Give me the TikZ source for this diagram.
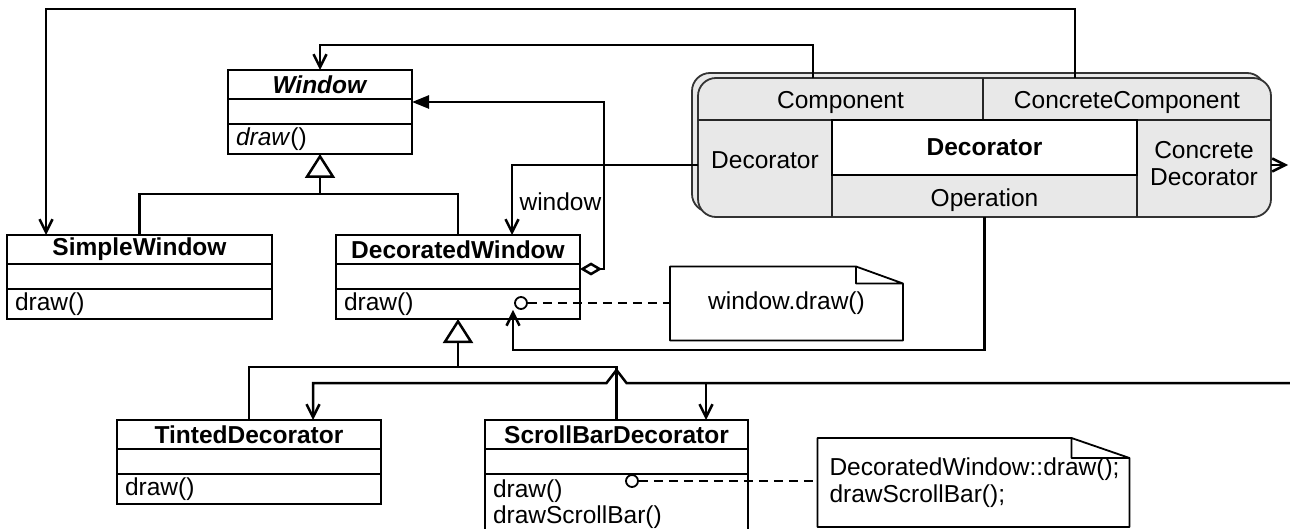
\documentclass[tikz,border=0pt]{standalone}
\usepackage{fontspec}
\setmainfont{Liberation Sans}
\usetikzlibrary{positioning, arrows.meta}

\begin{document}
\begin{tikzpicture}[x=1pt, y=-1pt,
        every node/.style={font=\fontsize{24.5}{26.5}\selectfont},
        classname/.style={draw, line width=2.6pt, outer sep=0pt, inner sep=0pt, minimum width=#1, minimum height=29pt},
        classattr/.style={draw, line width=2.6pt, outer sep=0pt, inner sep=0pt, minimum width=#1, minimum height=25pt},
        classops/.style={draw, line width=2.6pt, outer sep=0pt, inner xsep=8pt, inner ysep=2pt, text width=#1, minimum height=30pt, align=left},
        cell/.style={inner sep=0pt, outer sep=0pt, align=center},
        collab/.style={draw=black!80, line width=1.8pt, fill=black!9, rounded corners=18pt},
        celline/.style={draw=black!85, line width=1.8pt},
        port/.style={circle, draw, line width=1.8pt, fill=white, minimum size=12pt, inner sep=0pt},
        notetext/.style={inner sep=0pt, outer sep=0pt},
        noteline/.style={line width=1.8pt, line join=round},
        noteconn/.style={line width=1.8pt, dash pattern=on 9pt off 6pt},
        conn/.style={line width=2.5pt},
        assoc/.style={line width=2.5pt, -{Straight Barb[length=13pt,width=13pt]}},
        gen/.style={line width=2.5pt, -{Triangle[length=24pt,width=30pt,fill=white]}},
        aggr/.style={line width=2.5pt, {Triangle[length=17pt,width=13pt]}-{Diamond[length=22pt,width=13pt,fill=white]}}]
        \useasboundingbox (0,0) rectangle (1290,529);

        % collaboration
        \draw[collab] (692,73) rectangle (1265,212);
        \draw[collab] (698,78) rectangle (1271,217);
        \node[cell, minimum width=285pt, minimum height=42pt, text height=24pt] (component) at (840.5,99) {Component};
        \node[cell, minimum width=288pt, minimum height=42pt, text height=24pt] (ccomp) at (1127,99) {ConcreteComponent};
        \node[cell, minimum width=134pt, minimum height=97pt, text depth=17pt] (decrole) at (765,168.5) {Decorator};
        \node[cell, minimum width=305pt, minimum height=42pt, text height=26pt] (operation) at (984.5,196) {Operation};
        \node[cell, minimum width=134pt, minimum height=97pt] (cdec) at (1204,163.5) {Concrete\\Decorator};
        \draw[celline] (component.south west) -- (ccomp.south east);
        \draw[celline] (component.north east) -- (component.south east);
        \draw[celline] (decrole.north east) -- (decrole.south east);
        \draw[celline] (decrole.north east -| cdec.west) -- (decrole.south east -| cdec.west);
        \node[cell, draw, fill=white, line width=2.2pt, minimum width=305pt, minimum height=55pt] (dectitle) at (984.5,147.5) {\textbf{Decorator}};

        % classes
        \node[classname=184pt] (window) at (320,84.5) {\textbf{\textit{Window}}};
        \node[classattr=184pt, below=0pt of window] (windowattr) {};
        \node[classops=168pt, below=0pt of windowattr] (windowops) {\textit{draw}()};

        \node[classname=265pt] (simple) at (139.5,249.5) {\textbf{SimpleWindow}};
        \node[classattr=265pt, below=0pt of simple] (simpleattr) {};
        \node[classops=249pt, below=0pt of simpleattr] (simpleops) {draw()};

        \node[classname=244pt] (decorated) at (458,249.5) {\textbf{DecoratedWindow}};
        \node[classattr=244pt, below=0pt of decorated] (decattr) {};
        \node[classops=228pt, below=0pt of decattr] (decops) {draw()};

        \node[classname=264pt] (tinted) at (249,434.5) {\textbf{TintedDecorator}};
        \node[classattr=264pt, below=0pt of tinted] (tintedattr) {};
        \node[classops=248pt, below=0pt of tintedattr] (tintedops) {draw()};

        \node[classname=263pt] (scroll) at (616.5,434.5) {\textbf{ScrollBarDecorator}};
        \node[classattr=263pt, below=0pt of scroll] (scrollattr) {};
        \node[classops=247pt, minimum height=60pt, below=0pt of scrollattr] (scrollops) {draw()\\drawScrollBar()};

        % notes
        \node[port] (dwport) at (521,303) {};
        \node[port] (sbport) at (632,481) {};
        \node[notetext, minimum width=233pt, minimum height=74pt] (note1) at (786.5,303.5) {window.draw()};
        \node[notetext, inner xsep=12pt, text width=288pt, minimum height=89pt, align=left] (note2) at (973.5,482.5) {DecoratedWindow::draw();\\drawScrollBar();};
        \foreach \n/\ew/\eh in {note1/47/17, note2/58/20}
                \draw[noteline] (\n.north west) -- ([xshift=-\ew pt]\n.north east) -- ([yshift=-\eh pt]\n.north east) -- (\n.south east) -- (\n.south west) -- cycle
                        ([xshift=-\ew pt]\n.north east) -- ([xshift=-\ew pt,yshift=-\eh pt]\n.north east) -- ([yshift=-\eh pt]\n.north east);
        \draw[noteconn] (dwport.east) -- (dwport.east -| note1.west);
        \draw[noteconn] (sbport.east) -- (sbport.east -| note2.west);

        % generalizations
        \coordinate (genA) at (320,194);
        \coordinate (genB) at (458,367);
        \draw[conn] (simple.north) |- (genA) -| (decorated.north);
        \draw[gen] (genA) -- (windowops.south);
        \draw[conn] (tinted.north) |- (genB) -| (scroll.north);
        \draw[gen] (genB) -- (decops.south);

        % roles
        \draw[assoc] ([xshift=-27.5pt]component.north) -- ++(0,-33) -| (window.north);
        \draw[assoc] ([xshift=-52pt]ccomp.north) -- ++(0,-69) -| ([xshift=-93.5pt]simple.north);
        \draw[aggr] ([yshift=-3pt]windowattr.north east) -| ([xshift=24pt,yshift=7.5pt]decattr.east) -- ([yshift=7.5pt]decattr.east);
        \draw[assoc] ([yshift=3.5pt]decrole.west) -| ([xshift=54pt]decorated.north) node[pos=0.76, right=3pt] {window};
        \draw[assoc] (operation.south) -- ++(0,133) -| ([xshift=-8pt]dwport.south);
        \draw[assoc] ([yshift=3.5pt]decrole.east -| cdec.east) -- ++(17,0);
        \coordinate (cdout) at (1290,383);
        \draw[assoc] (cdout) -- ([xshift=10pt]scroll.north |- cdout) -- ++(-10,-13) -- ++(-10,13) -| ([xshift=64pt]tinted.north);
        \draw[assoc] ([xshift=89.5pt]scroll.north |- cdout) -- ([xshift=89.5pt]scroll.north);
\end{tikzpicture}
\end{document}
